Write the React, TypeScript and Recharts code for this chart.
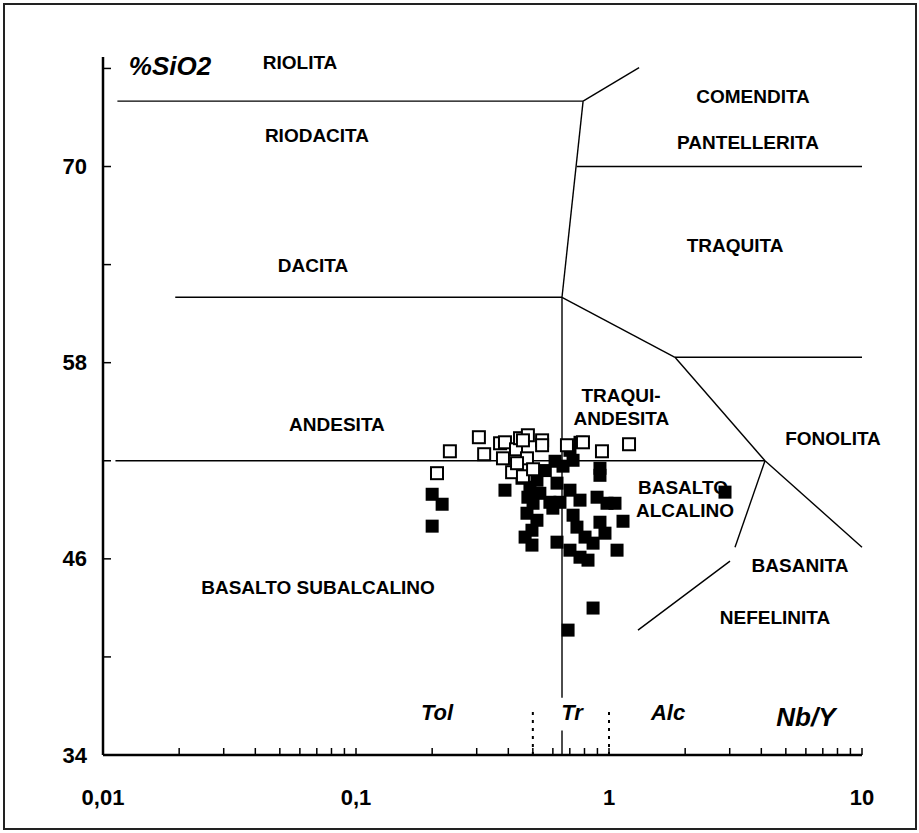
import React from "react";
import {
  ScatterChart,
  Scatter,
  XAxis,
  YAxis,
  ReferenceLine,
  ReferenceDot,
} from "recharts";

// open squares
const openNbY = [
  0.235, 0.209, 0.306, 0.321, 0.371, 0.388, 0.381, 0.429, 0.445, 0.478, 0.457,
  0.474, 0.414, 0.457, 0.501, 0.433, 0.544, 0.544, 0.682, 0.789, 0.938, 1.2,
];
const openSiO2 = [
  52.58, 51.24, 53.44, 52.4, 53.07, 53.13, 52.15, 52.7, 53.38, 53.56, 53.25,
  52.15, 51.3, 51.05, 51.48, 51.85, 53.25, 52.95, 52.95, 53.13, 52.58, 53.01,
];

// filled squares
const filledNbY = [
  0.2, 0.219, 0.2, 0.388, 0.487, 0.519, 0.612, 0.721, 0.701, 0.768, 0.623,
  0.64, 0.584, 0.501, 0.478, 0.474, 0.519, 0.496, 0.466, 0.496, 0.623, 0.701,
  0.768, 0.921, 0.921, 0.897, 0.982, 1.056, 1.136, 0.921, 0.721, 0.747, 0.804,
  0.964, 0.865, 0.701, 0.768, 0.826, 1.076, 0.865, 0.689, 2.874, 0.658, 0.533,
  0.453, 0.56, 0.6,
];
const filledSiO2 = [
  49.95, 49.34, 48.0, 50.2, 50.38, 50.81, 51.97, 52.03, 52.64, 53.13, 50.63,
  49.46, 49.46, 49.4, 49.77, 48.79, 48.36, 47.75, 47.33, 46.84, 47.02, 50.2,
  49.59, 51.11, 51.54, 49.77, 49.4, 49.4, 48.3, 48.24, 48.67, 47.94, 47.33,
  47.57, 46.96, 46.53, 46.1, 45.92, 46.53, 42.99, 41.64, 50.08, 51.67, 50.01,
  50.93, 51.4, 49.1,
];

// field boundaries: [x1, y1, x2, y2]
const boundaries = [
  [0.0114, 74.0, 0.79, 74.0],
  [0.79, 74.0, 1.315, 76.05],
  [0.79, 74.0, 0.652, 62.0],
  [0.745, 70.0, 10, 70.0],
  [0.0193, 62.0, 0.652, 62.0],
  [0.652, 62.0, 0.652, 37.5],
  [0.652, 35.5, 0.652, 34],
  [0.652, 62.0, 1.823, 58.33],
  [1.823, 58.33, 4.137, 52.0],
  [4.137, 52.0, 10, 46.71],
  [1.823, 58.33, 10, 58.33],
  [0.0112, 52.0, 4.137, 52.0],
  [4.137, 52.0, 3.148, 46.71],
  [3.008, 45.86, 1.302, 41.64],
];
const dashedLimits = [
  [0.5, 34, 0.5, 36.9],
  [1, 34, 1, 36.9],
];

const fieldNames = [
  "RIOLITA", "RIODACITA", "COMENDITA", "PANTELLERITA", "DACITA", "TRAQUITA",
  "TRAQUI-", "ANDESITA", "ANDESITA", "FONOLITA", "BASALTO", "ALCALINO",
  "BASANITA", "NEFELINITA", "BASALTO SUBALCALINO",
];
const fieldNbY = [
  0.0601, 0.0701, 3.709, 3.544, 0.0676, 3.148, 1.115, 1.12, 0.0841, 7.68,
  1.962, 1.998, 5.688, 4.53, 0.0708,
];
const fieldSiO2 = [
  76.36, 71.9, 74.28, 71.47, 63.95, 65.17, 56.0, 54.6, 54.23, 53.38, 50.38,
  48.98, 45.61, 42.44, 44.27,
];

const seriesNames = ["Tol", "Tr", "Alc"];
const seriesNbY = [0.209, 0.714, 1.711];

const xTicks = [
  0.01, 0.02, 0.03, 0.04, 0.05, 0.06, 0.07, 0.08, 0.09,
  0.1, 0.2, 0.3, 0.4, 0.5, 0.6, 0.7, 0.8, 0.9,
  1, 2, 3, 4, 5, 6, 7, 8, 9, 10,
];
const xTickLabels: Record<string, string> = { "0.01": "0,01", "0.1": "0,1", "1": "1", "10": "10" };
const yTicks = [34, 40, 46, 52, 58, 64, 70, 76];
const yTickLabels = [34, 46, 58, 70];

const FONT = "'Liberation Sans', Arial, Helvetica, sans-serif";

const openData = openNbY.map((x, i) => ({ x, y: openSiO2[i] }));
const filledData = filledNbY.map((x, i) => ({ x, y: filledSiO2[i] }));

function XTick(props: any) {
  const { x, y, payload } = props;
  const label = xTickLabels[String(payload.value)];
  return (
    <g>
      <line x1={x} x2={x} y1={y} y2={y - 7} stroke="#000" strokeWidth={1.5} />
      {label && (
        <text x={x} y={y + 42} textAnchor="middle" dominantBaseline="central"
          fontFamily={FONT} fontWeight="bold" fontSize={22} fill="#000">
          {label}
        </text>
      )}
    </g>
  );
}

function YTick(props: any) {
  const { x, y, payload } = props;
  const show = yTickLabels.includes(payload.value);
  return (
    <g>
      <line x1={x} x2={x + 8} y1={y} y2={y} stroke="#000" strokeWidth={1.5} />
      {show && (
        <text x={x - 16} y={y} textAnchor="end" dominantBaseline="central"
          fontFamily={FONT} fontWeight="bold" fontSize={22} fill="#000">
          {payload.value}
        </text>
      )}
    </g>
  );
}

const openSquare = (p: any) => (
  <rect x={p.cx - 6} y={p.cy - 6} width={12} height={12} fill="#fff" stroke="#000" strokeWidth={2} />
);
const filledSquare = (p: any) => (
  <rect x={p.cx - 6.5} y={p.cy - 6.5} width={13} height={13} fill="#000" />
);

const textShape = (label: string, size: number, italic: boolean) => (p: any) => (
  <text x={p.cx} y={p.cy} textAnchor="middle" dominantBaseline="central"
    fontFamily={FONT} fontWeight="bold" fontStyle={italic ? "italic" : "normal"}
    fontSize={size} fill="#000">
    {label}
  </text>
);

export default function App() {
  return (
    <div style={{ position: "absolute", left: 0, top: 0, width: 919, height: 833, background: "#fff" }}>
      <div style={{ position: "absolute", left: 3, top: 3, width: 914, height: 827, border: "2px solid #222", boxSizing: "border-box" }} />
      <div style={{ position: "absolute", left: 0, top: 0 }}>
        <ScatterChart width={919} height={833} margin={{ top: 57, right: 57, bottom: 38, left: 0 }}>
          <XAxis type="number" dataKey="x" scale="log" domain={[0.01, 10]} ticks={xTicks}
            allowDataOverflow interval={0} height={40} tickSize={0} tickMargin={0}
            tickLine={false} axisLine={{ stroke: "#000", strokeWidth: 2.5 }} tick={<XTick />} />
          <YAxis type="number" dataKey="y" domain={[34, 76.7]} ticks={yTicks}
            allowDataOverflow interval={0} width={103} tickSize={0} tickMargin={0}
            tickLine={false} axisLine={{ stroke: "#000", strokeWidth: 2.5 }} tick={<YTick />} />
          {boundaries.map((b, i) => (
            <ReferenceLine key={"b" + i} segment={[{ x: b[0], y: b[1] }, { x: b[2], y: b[3] }]}
              stroke="#000" strokeWidth={1.4} ifOverflow="visible" />
          ))}
          {dashedLimits.map((b, i) => (
            <ReferenceLine key={"d" + i} segment={[{ x: b[0], y: b[1] }, { x: b[2], y: b[3] }]}
              stroke="#000" strokeWidth={2} strokeDasharray="3 5" ifOverflow="visible" />
          ))}
          {fieldNames.map((n, i) => (
            <ReferenceDot key={"f" + i} x={fieldNbY[i]} y={fieldSiO2[i]} r={0}
              ifOverflow="visible" shape={textShape(n, 19, false)} />
          ))}
          {seriesNames.map((n, i) => (
            <ReferenceDot key={"s" + i} x={seriesNbY[i]} y={36.63} r={0}
              ifOverflow="visible" shape={textShape(n, 22, true)} />
          ))}
          <ReferenceDot x={6.0} y={36.32} r={0} ifOverflow="visible" shape={textShape("Nb/Y", 26, true)} />
          <ReferenceDot x={0.0184} y={76.18} r={0} ifOverflow="visible" shape={textShape("%SiO2", 26, true)} />
          <Scatter name="filled" data={filledData} shape={filledSquare} isAnimationActive={false} />
          <Scatter name="open" data={openData} shape={openSquare} isAnimationActive={false} />
        </ScatterChart>
      </div>
    </div>
  );
}
